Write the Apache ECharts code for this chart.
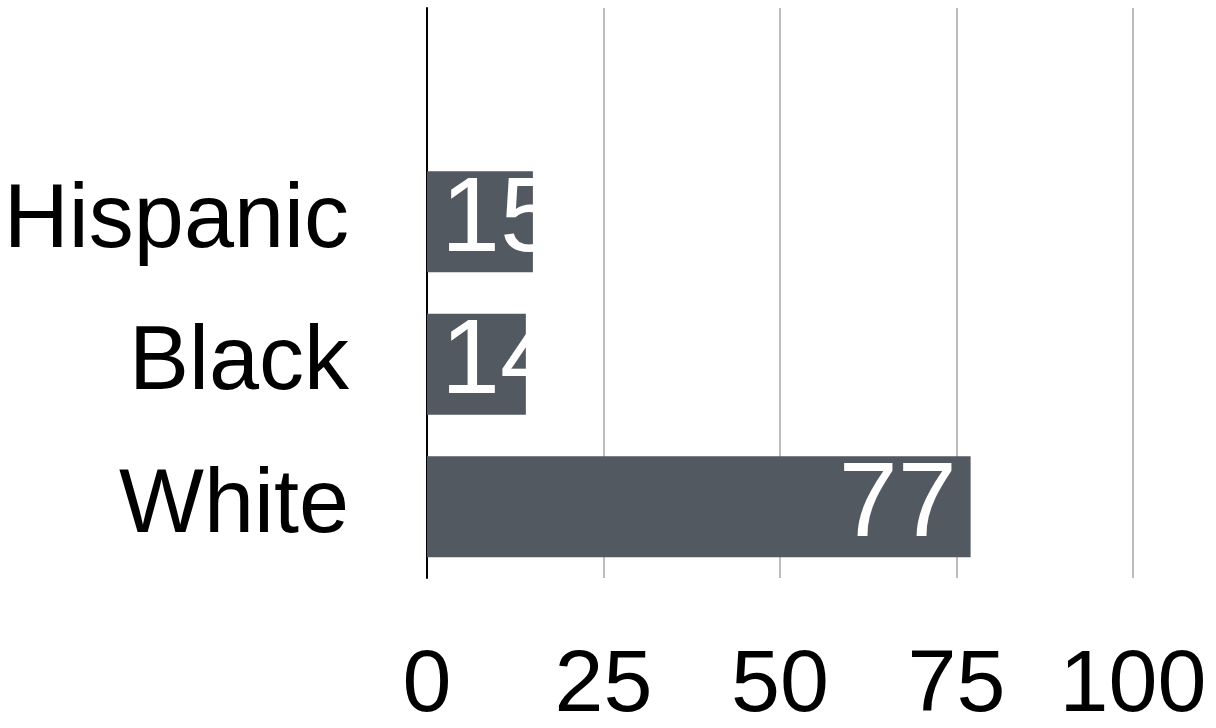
<!DOCTYPE html>
<html>
<head>
<meta charset="utf-8">
<script src="https://cdn.jsdelivr.net/npm/echarts@6/dist/echarts.min.js"></script>
<style>
  html, body { margin: 0; padding: 0; background: #ffffff; }
  #chart { width: 1216px; height: 728px; }
</style>
</head>
<body>
<div id="chart"></div>
<script>
// Categories listed bottom to top; the blank entry leaves an empty band at the top.
const categories = ['White', 'Black', 'Hispanic', ''];
const shares = [77, 14, 15, null];
const xTicks = [0, 25, 50, 75, 100];

const FONT = '"Liberation Sans", Arial, sans-serif';
const BAR_COLOR = '#535960';

// Short bars carry their label from the left edge; long bars from the right edge.
const barData = shares.map(function (v) {
  if (v === null) return '-';
  return {
    value: v,
    label: { position: v < 25 ? 'insideLeft' : 'insideRight' }
  };
});

const chart = echarts.init(document.getElementById('chart'), null, { renderer: 'canvas' });

chart.setOption({
  animation: false,
  backgroundColor: '#ffffff',
  grid: {
    left: 427, right: 83, top: 8, bottom: 150,
    containLabel: false,
    outerBoundsMode: 'none'
  },
  xAxis: {
    type: 'value',
    min: xTicks[0],
    max: xTicks[xTicks.length - 1],
    interval: xTicks[1] - xTicks[0],
    axisLine: { show: false },
    axisTick: { show: false },
    splitLine: { show: true, lineStyle: { color: '#bdbdbd', width: 2 } },
    axisLabel: {
      color: '#000000',
      fontFamily: FONT,
      fontSize: 88,
      margin: 65
    }
  },
  yAxis: {
    type: 'category',
    data: categories,
    axisLine: { show: true, lineStyle: { color: '#000000', width: 2 } },
    axisTick: { show: false },
    splitLine: { show: false },
    axisLabel: {
      color: '#000000',
      fontFamily: FONT,
      fontSize: 90,
      margin: 78
    }
  },
  series: [{
    type: 'bar',
    data: barData,
    barCategoryGap: '29%',
    itemStyle: { color: BAR_COLOR },
    label: {
      show: true,
      color: '#ffffff',
      fontFamily: FONT,
      fontSize: 106,
      distance: 14
    }
  }]
});
</script>
</body>
</html>
